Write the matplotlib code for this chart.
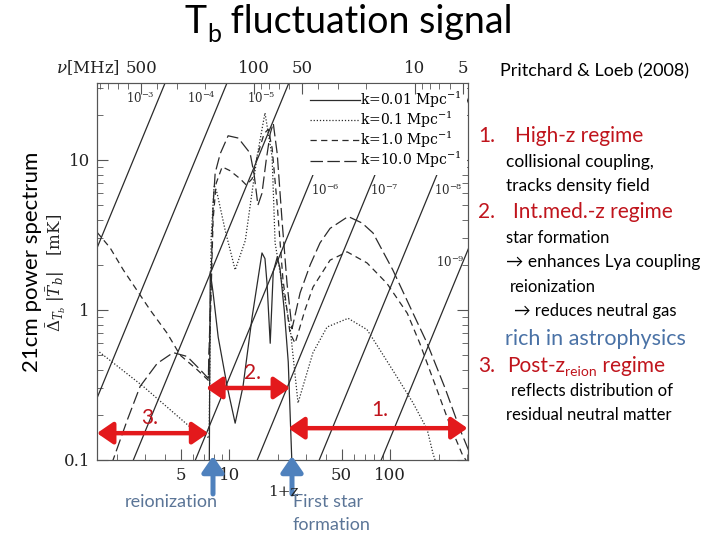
import matplotlib
matplotlib.use("Agg")
import matplotlib.pyplot as plt
from matplotlib.patches import FancyArrowPatch
from matplotlib.ticker import FixedLocator, NullFormatter

# ---- values: (1+z, Delta_Tb |Tb| in mK) ----
zp_k001 = [7.51, 7.63, 7.95, 8.55, 9.72, 10.9, 12.2, 13.9, 16.0, 16.7, 17.2, 18.0,
           18.8, 19.9, 20.7, 22.0, 23.3, 24.6]
dt_k001 = [0.05, 1.8, 1.3, 0.66, 0.31, 0.176, 0.31, 0.9, 2.4, 2.2, 1.5, 0.6,
           1.8, 2.25, 1.9, 1.0, 0.45, 0.09]

zp_k01 = [1.51, 2.92, 5.72, 7.30, 7.51, 7.73, 8.07, 8.42, 9.45, 10.9, 12.6, 14.9,
          16.7, 18.5, 19.3, 21.3, 23.9, 26.8, 33.2, 40.6, 54.9, 71.9, 86.7, 110,
          139, 170, 185, 204]
dt_k01 = [0.54, 0.31, 0.166, 0.143, 0.14, 3.0, 6.8, 6.0, 3.4, 1.85, 2.9, 10.5,
          20.6, 10.5, 2.8, 1.5, 0.77, 0.24, 0.52, 0.77, 0.88, 0.74, 0.54, 0.36,
          0.24, 0.16, 0.11, 0.08]

zp_k1 = [1.51, 1.82, 2.20, 3.23, 4.12, 4.96, 6.33, 7.42, 7.63, 7.95, 8.31, 9.05,
         10.1, 11.7, 12.8, 13.9, 15.1, 16.5, 17.5, 18.5, 19.9, 21.6, 23.9, 25.7,
         29.6, 33.2, 42.4, 54.1, 71.9, 95.8, 128, 153, 190, 236, 280, 314]
dt_k1 = [3.3, 2.6, 1.85, 1.0, 0.7, 0.5, 0.4, 0.34, 0.8, 4.0, 7.0, 9.0,
         8.5, 7.5, 6.8, 7.5, 11, 15, 16, 12, 5, 1.6, 0.7, 0.6,
         1.0, 1.42, 2.15, 2.44, 2.06, 1.5, 0.95, 0.6, 0.32, 0.17, 0.11, 0.09]

zp_k10 = [1.70, 1.90, 2.33, 2.80, 3.57, 4.49, 5.48, 6.61, 7.42, 7.63, 7.95, 8.19,
          8.80, 9.86, 11.4, 13.5, 14.3, 15.1, 16.0, 17.0, 18.0, 18.8, 19.9, 21.3,
          22.9, 24.6, 27.6, 31.9, 36.7, 42.4, 54.9, 67.0, 78.4, 104, 139, 170,
          220, 272, 314]
dt_k10 = [0.07, 0.1, 0.185, 0.31, 0.44, 0.52, 0.49, 0.40, 0.35, 1.0, 5.0, 8.2,
          11.0, 14.5, 14.0, 11.1, 8.0, 5.0, 6.0, 10.0, 15.0, 17.6, 11.0, 4.0,
          1.5, 0.75, 1.3, 2.0, 2.8, 3.5, 4.2, 3.8, 3.26, 1.85, 0.95, 0.6,
          0.3, 0.16, 0.11]

# diagonal guide lines: 1+z where each meets the bottom (0.1 mK) and top (32.6 mK)
guide_names = ["$10^{-3}$", "$10^{-4}$", "$10^{-5}$", "$10^{-6}$", "$10^{-7}$", "$10^{-8}$", "$10^{-9}$"]
guide_zp_lo = [0.432, 1.048, 2.54, 6.17, 14.96, 36.3, 88.1]
guide_zp_hi = [4.0, 9.70, 23.5, 57.1, 138.6, 336, 816]
guide_dt = [0.1, 32.6]
guide_lab_zp = [2.80, 6.70, 15.8, 39.5, 91.8, 229, 236]
guide_lab_dt = [25.9, 25.9, 25.9, 6.3, 6.3, 6.3, 2.09]

nu_major = [500, 100, 50, 10, 5]
nu_minor = [900, 800, 700, 600, 400, 300, 200, 90, 80, 70, 60, 40, 30, 20, 9, 8, 7, 6]
NU21 = 1420.0

W, H = 720, 540
fig = plt.figure(figsize=(7.2, 5.4), dpi=100)
plt.rcParams["mathtext.fontset"] = "dejavuserif"

ax = fig.add_axes([97 / W, 1 - 460 / H, (468 - 97) / W, (460 - 83) / H])
ax.set_xscale("log")
ax.set_yscale("log")
ax.set_xlim(1.51, 305)
ax.set_ylim(0.1, 32.6)

ink = "#2b2b2b"
for lo, hi in zip(guide_zp_lo, guide_zp_hi):
    ax.plot([lo, hi], guide_dt, color=ink, lw=0.9, zorder=2)
for name, gx, gy in zip(guide_names, guide_lab_zp, guide_lab_dt):
    ax.text(gx, gy, name, fontsize=8.5, ha="center", va="center",
            family="DejaVu Serif", color=ink, zorder=2)

l1, = ax.plot(zp_k001, dt_k001, color=ink, lw=0.9, ls="-", zorder=3)
l2, = ax.plot(zp_k01, dt_k01, color=ink, lw=0.9, ls=(0, (1, 1.5)), zorder=3)
l3, = ax.plot(zp_k1, dt_k1, color=ink, lw=0.9, ls=(0, (5, 3.5)), zorder=3)
l4, = ax.plot(zp_k10, dt_k10, color=ink, lw=0.9, ls=(0, (10, 3.5)), zorder=3)

leg = ax.legend([l1, l2, l3, l4],
                ["k=0.01 Mpc$^{-1}$", "k=0.1 Mpc$^{-1}$", "k=1.0 Mpc$^{-1}$", "k=10.0 Mpc$^{-1}$"],
                loc="upper right", prop={"family": "DejaVu Serif", "size": 10},
                handlelength=3.6, handletextpad=0.0, labelspacing=0.0, borderpad=0.35,
                borderaxespad=0.1, frameon=True, fancybox=False, framealpha=1,
                edgecolor="none", facecolor="white")
leg.set_zorder(4)

# ticks
spine_c = "#555555"
for s in ax.spines.values():
    s.set_color(spine_c)
ax.xaxis.set_major_locator(FixedLocator([5, 10, 50, 100]))
ax.xaxis.set_minor_locator(FixedLocator([2, 3, 4, 6, 7, 8, 9, 20, 30, 40, 60, 70, 80, 90, 200, 300]))
ax.set_xticklabels(["5", "10", "50", "100"])
ax.xaxis.set_minor_formatter(NullFormatter())
ax.yaxis.set_major_locator(FixedLocator([0.1, 1, 10]))
ax.yaxis.set_minor_locator(FixedLocator([0.2, 0.3, 0.4, 0.5, 0.6, 0.7, 0.8, 0.9,
                                         2, 3, 4, 5, 6, 7, 8, 9, 20, 30]))
ax.set_yticklabels(["0.1", "1", "10"])
ax.yaxis.set_minor_formatter(NullFormatter())
ax.tick_params(which="both", direction="in", top=False, right=True, color=spine_c,
               labelsize=12, pad=5)
ax.tick_params(which="major", length=8)
ax.tick_params(which="minor", length=4)
for lab in ax.get_xticklabels() + ax.get_yticklabels():
    lab.set_family("DejaVu Serif")
    lab.set_color("#222222")

ax2 = ax.twiny()
ax2.set_xscale("log")
ax2.set_xlim(ax.get_xlim())
ax2.xaxis.set_major_locator(FixedLocator([NU21 / n for n in nu_major]))
ax2.xaxis.set_minor_locator(FixedLocator([NU21 / n for n in nu_minor]))
ax2.set_xticklabels([str(n) for n in nu_major])
ax2.xaxis.set_minor_formatter(NullFormatter())
ax2.tick_params(which="both", direction="in", color=spine_c, labelsize=12, pad=4)
ax2.tick_params(which="major", length=8)
ax2.tick_params(which="minor", length=4)
for lab in ax2.get_xticklabels():
    lab.set_family("DejaVu Serif")
    lab.set_color("#222222")
for s in ax2.spines.values():
    s.set_color(spine_c)

fig.text(88 / W, 1 - 68 / H, r"$\nu$[MHz]", fontsize=12, family="DejaVu Serif",
         ha="center", va="center", color="#222222")
fig.text(283 / W, 1 - 492 / H, "1+z", fontsize=11, family="DejaVu Serif",
         ha="center", va="center", color="#222222")
fig.text(56 / W, 1 - 273 / H, r"$\bar{\Delta}_{T_b}\;|\bar{T}_b|\quad[\mathrm{mK}]$",
         fontsize=12, rotation=90, ha="center", va="center", color="#222222")

# red regime arrows
red = "#e3191c"
dred = "#c0141c"
for (xa, xb, yy) in [(1.51, 7.42, 0.151), (7.2, 23.9, 0.302), (23.3, 303, 0.163)]:
    ar = FancyArrowPatch((xa, yy), (xb, yy), arrowstyle="<|-|>,head_length=0.8,head_width=0.55",
                         mutation_scale=12, lw=3.2, color=red, shrinkA=0, shrinkB=0,
                         clip_on=False, zorder=6)
    ax.add_patch(ar)
for txt, xx, yy in [("3.", 3.23, 0.19), ("2.", 13.9, 0.38), ("1.", 86.7, 0.215)]:
    ax.text(xx, yy, txt, fontsize=15, color=dred, family="Lato", ha="center",
            va="center", zorder=6)

# blue arrows below the axis
blue = "#4f81bd"
for xp in [213, 292]:
    ar = FancyArrowPatch((xp / W, 1 - 494 / H), (xp / W, 1 - 456 / H),
                         transform=fig.transFigure, arrowstyle="-|>,head_length=0.8,head_width=0.55",
                         mutation_scale=12, lw=3.6, color=blue, shrinkA=0, shrinkB=0)
    fig.add_artist(ar)

gblue = "#5b7597"
fig.text(171 / W, 1 - 502 / H, "reionization", fontsize=13, family="Lato",
         color=gblue, ha="center", va="center")
fig.text(293 / W, 1 - 502 / H, "First star", fontsize=13, family="Lato",
         color=gblue, ha="left", va="center")
fig.text(293 / W, 1 - 525 / H, "formation", fontsize=13, family="Lato",
         color=gblue, ha="left", va="center")

# side labels
fig.text(32 / W, 1 - 262 / H, "21cm power spectrum", fontsize=16, family="Lato",
         rotation=90, ha="center", va="center", color="black")
fig.text(594 / W, 1 - 71 / H, "Pritchard & Loeb (2008)", fontsize=13, family="Lato",
         ha="center", va="center", color="black")

fig.canvas.draw()
rend = fig.canvas.get_renderer()


def text_run(x0, y0, parts):
    # parts: (string, size, color, baseline shift in px)
    x = x0
    for s, size, col, dy in parts:
        t = fig.text(x / W, 1 - (y0 + dy) / H, s, fontsize=size, color=col,
                     family=["Lato", "DejaVu Sans"], ha="left", va="baseline")
        x = t.get_window_extent(rend).x1


text_run(185, 33, [("T", 27, "black", 0), ("b", 18, "black", 9),
                   (" fluctuation signal", 27, "black", 0)])

fig.text(478 / W, 1 - 136 / H, "1.", fontsize=15, color=dred, family="Lato", va="center")
fig.text(515 / W, 1 - 136 / H, "High-z regime", fontsize=15, color=dred, family="Lato", va="center")
fig.text(478 / W, 1 - 212 / H, "2.", fontsize=15, color=dred, family="Lato", va="center")
fig.text(513 / W, 1 - 212 / H, "Int.med.-z regime", fontsize=15, color=dred, family="Lato", va="center")
fig.text(478 / W, 1 - 366 / H, "3.", fontsize=15, color=dred, family="Lato", va="center")
text_run(507, 372, [("Post-z", 15, dred, 0), ("reion", 10, dred, 4), (" regime", 15, dred, 0)])

side_lines = [
    ("collisional coupling,", 506, 162, "black", 12.5),
    ("tracks density field", 506, 186, "black", 12.5),
    ("star formation", 506, 238, "black", 12),
    ("\u2192 enhances Lya coupling", 506, 262, "black", 12.5),
    ("reionization", 510, 287, "black", 12),
    ("\u2192 reduces neutral gas", 514, 311, "black", 12),
    ("rich in astrophysics", 505, 339, "#4a72a6", 15.5),
    ("reflects distribution of", 511, 391, "black", 12),
    ("residual neutral matter", 506, 415, "black", 12),
]
for s, xx, yy, col, size in side_lines:
    fig.text(xx / W, 1 - yy / H, s, fontsize=size, color=col,
             family=["Lato", "DejaVu Sans"], va="center", ha="left")

fig.savefig("out.png", dpi=100)
